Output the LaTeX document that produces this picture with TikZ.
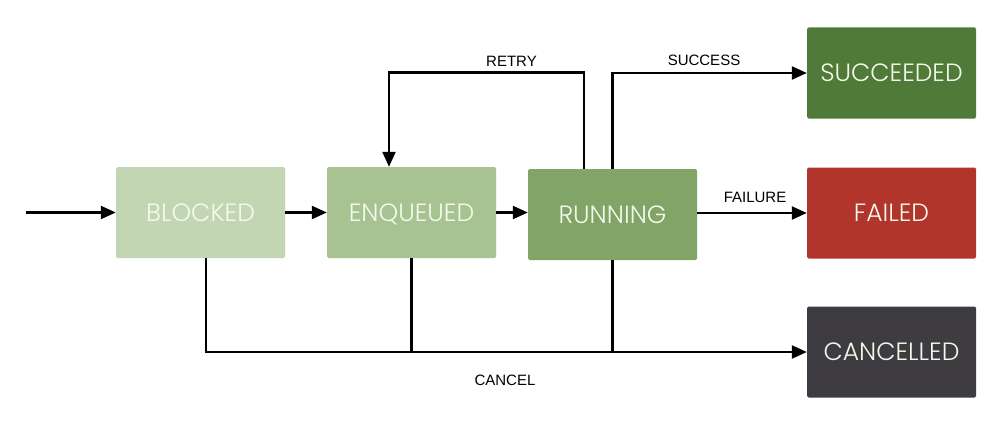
\documentclass[tikz,border=0pt]{standalone}
\usepackage{fontspec}
\setmainfont{Liberation Sans}
\newfontfamily\statefont{Poppins}[UprightFont=* Light]
\usetikzlibrary{arrows.meta}

\definecolor{blockedc}{HTML}{C3D6B4}
\definecolor{enqueuedc}{HTML}{A7C391}
\definecolor{runningc}{HTML}{80A566}
\definecolor{succc}{HTML}{4F7A37}
\definecolor{failc}{HTML}{B1352A}
\definecolor{cancc}{HTML}{3E3C40}
\definecolor{statetext}{HTML}{F4F9EC}

\begin{document}
\begin{tikzpicture}[x=1pt,y=-1pt,
  state/.style={minimum width=169pt, minimum height=91pt, inner sep=0pt,
    rounded corners=1.5pt, text=statetext, text height=17.5pt, text depth=0pt,
    font=\statefont\fontsize{25}{29}\selectfont},
  flow/.style={line width=2.3pt, -{Triangle[length=15pt,width=13pt]}},
  link/.style={line width=2.3pt},
  lbl/.style={font=\fontsize{15}{18}\selectfont, inner sep=0pt}]

  \useasboundingbox (0,0) rectangle (1000,420);

  % job states
  \node[state, fill=blockedc]  (blocked) at (200.5,212.5) {BLOCKED};
  \node[state, fill=enqueuedc] (enq)     at (411.5,212.5) {ENQUEUED};
  \node[state, fill=runningc]  (run)     at (612.5,214.5) {RUNNING};
  \node[state, fill=succc]     (succ)    at (891.5,73)    {SUCCEEDED};
  \node[state, fill=failc]     (fail)    at (891.5,213)   {FAILED};
  \node[state, fill=cancc]     (canc)    at (891.5,352)   {CANCELLED};

  % entry and main flow
  \coordinate (entry) at (26,212.5);
  \draw[flow] (entry) -- (blocked.west);
  \draw[flow] (blocked) -- (enq);
  \draw[flow] (enq.east) -- (enq.east -| run.west);

  % retry loop
  \coordinate (retrytop) at (584,72.5);
  \draw[flow] (run.north -| retrytop) -- (retrytop) -| ([xshift=-22.5pt]enq.north);
  \node[lbl] (retrylbl) at (511.5,61) {RETRY};

  % outcomes
  \draw[flow] (run.north) |- (succ.west);
  \node[lbl] (successlbl) at (704,60) {SUCCESS};
  \draw[flow] (run.east |- fail.west) -- (fail.west);
  \node[lbl] (failurelbl) at (755,197) {FAILURE};

  % cancel bus
  \coordinate (cbus) at (612.5,352);
  \draw[link] ([xshift=5.5pt]blocked.south) |- (cbus);
  \draw[link] (enq.south) -- (enq.south |- cbus);
  \draw[flow] (run.south) |- (canc.west);
  \node[lbl] (cancellbl) at (505,380) {CANCEL};
\end{tikzpicture}
\end{document}
